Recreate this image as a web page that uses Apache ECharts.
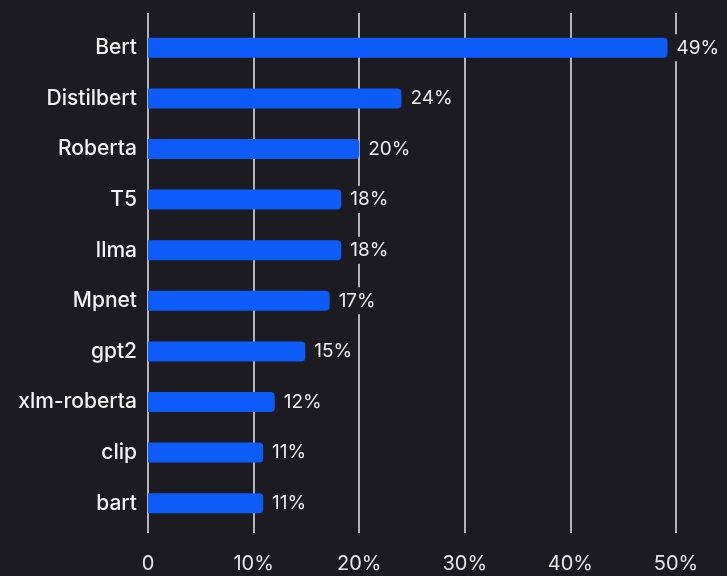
<!DOCTYPE html>
<html><head><meta charset="utf-8">
<script src="https://cdn.jsdelivr.net/npm/echarts@6/dist/echarts.min.js"></script>
<style>html,body{margin:0;padding:0;background:#1b1b21}#c{width:727px;height:576px}</style>
</head><body><div id="c"></div>
<script>
const categories = ["Bert","Distilbert","Roberta","T5","llma","Mpnet","gpt2","xlm-roberta","clip","bart"];
const values = [49.2, 24, 20, 18.3, 18.3, 17.2, 14.9, 12, 10.9, 10.9];
const xTicks = [0, 10, 20, 30, 40, 50];

const chart = echarts.init(document.getElementById('c'), null, {renderer:'canvas'});
const font = 'Inter, "Noto Sans", sans-serif';
chart.setOption({
  backgroundColor: '#1b1b21',
  animation: false,
  grid: [
    {left: 148, right: 51, top: 13, bottom: 43},
    {left: 148, right: 51, top: 22.5, bottom: 47.5}
  ],
  xAxis: [
    {gridIndex: 0, type: 'value', min: xTicks[0], max: xTicks[xTicks.length-1], interval: 10,
     axisLine: {show: false}, axisTick: {show: false},
     splitLine: {show: true, lineStyle: {color: '#e8e8ea', width: 1.5}},
     axisLabel: {color: '#e6e6e8', fontFamily: font, fontSize: 20, margin: 21,
       formatter: v => v === 0 ? '0' : v + '%'}},
    {gridIndex: 1, type: 'value', min: 0, max: 50, interval: 10,
     axisLine: {show: false}, axisTick: {show: false}, splitLine: {show: false}, axisLabel: {show: false}}
  ],
  yAxis: [
    {gridIndex: 0, type: 'category', data: [], show: false},
    {gridIndex: 1, type: 'category', data: categories, inverse: true,
     axisLine: {show: false}, axisTick: {show: false},
     axisLabel: {color: '#f2f2f4', fontFamily: font, fontSize: 21, fontWeight: 500, margin: 11}}
  ],
  series: [{
    type: 'bar', xAxisIndex: 1, yAxisIndex: 1, data: values, barWidth: 20,
    itemStyle: {color: '#0d5cf7', borderRadius: [0, 4, 4, 0]},
    label: {show: true, position: 'right', distance: 5, color: '#ededf0', fontFamily: font, fontSize: 19,
      backgroundColor: '#1b1b21', padding: [4, 4, 4, 4],
      formatter: p => Math.round(p.value) + '%'}
  }]
});
</script></body></html>
